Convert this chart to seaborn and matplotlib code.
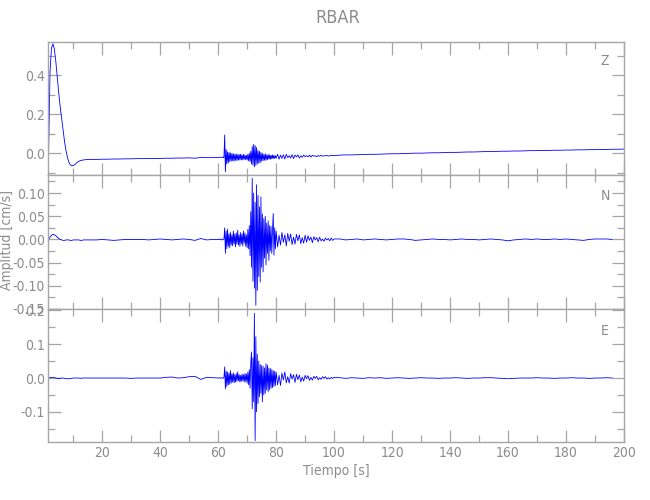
import numpy as np
import pandas as pd
import matplotlib
matplotlib.use("Agg")
import matplotlib.pyplot as plt
import seaborn as sns
from matplotlib import font_manager as fm
from matplotlib.ticker import MultipleLocator, FormatStrFormatter

# ---------------- data (amplitudes in 1e-3 cm/s) ----------------
# each trace is stored in 5 segments: (start time [s], sample step [s])
seg_start = [1.5, 16.0, 60.25, 80.5, 102.0]
seg_step = [0.5, 2.0, 0.25, 0.5, 2.0]

z_seg1 = [0, 420, 540, 562, 535, 470, 390, 310, 240, 180, 120, 62, 15, -20, -45,
          -58, -64, -63, -58, -51, -45, -40, -37, -35, -34, -33, -32]
z_seg2 = [-31, -31, -30, -30, -29, -29, -28, -28, -27, -27, -27, -26, -26, -25,
          -25, -24, -24, -23, -25, -21, -22, -22, -21]
z_seg3 = [-20, -21, -19, -20, -21, -20, -19, -22,
          94, -94, 20, -55, 8, -48, 5, -42, 2, -40, 0, -38, -2, -40, -4, -36,
          -3, -38, -6, -34, -5, -35, -4, -33, -8, -34, -6, -31, -8, -32, -10,
          -34, -4, -38, 0, -42, 10, -55, 35, -60, 46, -69, 40, -62, 30, -55,
          15, -50, 10, -48, 5, -40, 0, -38, -5, -35, -2, -36, -8, -32, -6, -30,
          -8, -30, -10, -28, -8, -27, -10, -26, -12, -25]
z_seg4 = [-5, -30, -9, -26, -7, -29, -5, -22, -12, -24, -7, -27, -9, -18, -8, -24,
          -13, -20, -9, -17, -12, -18, -9, -19, -10, -14, -13, -17, -11, -15,
          -10, -14, -13, -12, -11, -14, -12, -11, -10, -12]
z_seg5 = [-9, -8, -8, -7, -6, -5, -5, -4, -3, -2, -2, -1, 0, 1, 1, 2, 3, 3, 4, 5,
          5, 6, 7, 7, 8, 9, 9, 10, 11, 11, 12, 12, 13, 14, 14, 15, 15, 16, 16,
          17, 17, 18, 18, 19, 19, 20, 20, 21, 21, 22]

n_seg1 = [0, 5, 9, 11, 10, 8, 5, 2, 0, -1, -2, -2, -1, -1, -1, -2, -2, -1, -1,
          -1, -1, -1, -2, -2, -1, -1, -1]
n_seg2 = [-1, -1, 0, -1, -2, -1, 0, 0, 0, 0, -1, 0, 1, 0, -1, 0, 1, 0, -2, 2,
          -1, 0, 0]
n_seg3 = [0, 1, -1, 0, 1, -1, 0, 1,
          25, -30, 18, -20, 22, -15, 12, -18, 15, -12, 10, -14, 18, -10, 12,
          -16, 14, -10, 20, -12, 10, -15, 15, -10, 12, -14, 18, -8, 14, -15,
          10, -18, 22, -20, 30, -35, 60, -60, 132, -90, 100, -105, 80, -142,
          118, -110, 95, -80, 70, -92, 92, -60, 55, -70, 45, -40, 50, -55, 35,
          -30, 40, -45, 30, -25, 28, -30, 20, 56, -34, 25, -20, 18]
n_seg4 = [-16, 9, -12, 15, -6, 10, -14, 13, -4, 12, -11, 5, -10, 11, -3, 10,
          -9, 4, -8, 9, -6, 8, -2, 5, -7, 6, -1, 4, -5, 5, -3, 1, -4, 3, -1, 2,
          -3, 3, -2, 1]
n_seg5 = [1, -1, 0, 1, -1, 0, 1, 0, -1, 0, 1, 1, 0, -2, -1, 0, 1, 0, 0, -1, 0,
          1, 0, 0, -1, 0, 1, 0, -1, -3, -1, 0, 1, 0, 1, 0, 0, 1, 0, 1, 0, -1,
          -2, 0, 1, 1, 1, 0]

e_seg1 = [0, 1, 2, 2, 1, 0, -1, -1, -1, 0, 0, -1, -2, -2, -2, -1, -1, 0, 0, 0,
          0, 0, -1, 0, 0, 0, 0]
e_seg2 = [0, 0, 0, 0, 0, 0, 0, -1, 0, 0, 0, 0, 0, 2, 3, 0, 1, 4, 5, -4, 2, 1, 0]
e_seg3 = [0, 1, -1, 0, 1, 0, -1, 2,
          33, -32, 20, -25, 18, -20, 15, -18, 22, -15, 12, -12, 15, -14, 10,
          -12, 13, -10, 18, -8, 10, -12, 8, -10, 12, -8, 10, -12, 14, -10, 12,
          -15, 18, -20, 25, -30, 45, 77, -91, 60, -70, 191, -185, 122, -100,
          70, -75, 50, -55, 40, -45, 37, -70, 35, -50, 30, -45, 42, -35, 38,
          -40, 30, -35, 28, -30, 25, -28, 22, -25, 20, -22, 18]
e_seg4 = [-20, 8, -22, 15, -6, 18, -14, 4, -15, 13, -3, 10, -13, 11, -5, 9,
          -11, 3, -9, 8, -2, 7, -7, 2, -6, 5, -1, 5, -5, 1, -4, 4, -1, 4, -3, 1,
          -3, 2, -1, 2]
e_seg5 = [1, -1, 1, 0, -1, 1, 0, 1, -1, 0, 1, 0, -1, 0, 1, 0, 0, -1, 0, 0, 1, 0,
          -1, 0, 0, 1, 1, 0, -1, -2, -1, 0, 0, 0, 1, 0, 0, -1, 0, 0, 1, 0, 0,
          -1, 0, 0, 1, 0]

components = ["Z", "N", "E"]
traces = {
    "Z": [z_seg1, z_seg2, z_seg3, z_seg4, z_seg5],
    "N": [n_seg1, n_seg2, n_seg3, n_seg4, n_seg5],
    "E": [e_seg1, e_seg2, e_seg3, e_seg4, e_seg5],
}
units = 1e-3  # cm/s per stored unit

rows = []
for comp in components:
    for s0, dt, vals in zip(seg_start, seg_step, traces[comp]):
        for i, v in enumerate(vals):
            rows.append((comp, s0 + i * dt, v * units))
df = pd.DataFrame(rows, columns=["comp", "t", "amp"])

# ---------------- style ----------------
sns.set_theme(style="white")

# pick a narrow font if one is installed
fonts = fm.fontManager.ttflist
fam_names = {f.name for f in fonts}
stretch = "normal"
fsize = 10
if "Liberation Sans Narrow" in fam_names:
    family = ["Liberation Sans Narrow", "DejaVu Sans"]
elif any(f.name == "DejaVu Sans" and f.stretch == "condensed" for f in fonts):
    family = ["DejaVu Sans"]
    stretch = "condensed"
else:
    family = ["Liberation Sans", "DejaVu Sans"]
    fsize = 9
plt.rcParams["font.family"] = family
plt.rcParams["font.stretch"] = stretch
plt.rcParams["axes.unicode_minus"] = False

gray = "#8c8c8c"
axcol = "#a6a6a6"

fig = plt.figure(figsize=(6.5, 5.0), dpi=100)
W, H = 650.0, 500.0
left, right = 48, 624
panels = [(42, 175), (175, 309), (309, 442)]
ylims = [(-0.111, 0.571), (-0.15, 0.139), (-0.189, 0.204)]
ymaj = [0.2, 0.05, 0.1]
ymin = [0.1, 0.025, 0.05]
yfmt = ["%.1f", "%.2f", "%.1f"]
lab_y = [0.857, 0.843, 0.835]

axes = []
for k, comp in enumerate(components):
    top, bot = panels[k]
    ax = fig.add_axes([left / W, 1 - bot / H, (right - left) / W, (bot - top) / H])
    sub = df[df["comp"] == comp]
    sns.lineplot(data=sub, x="t", y="amp", ax=ax, color="#0000ff", lw=0.6,
                 estimator=None, sort=False)
    ax.set_xlim(1.3, 200)
    ax.set_ylim(*ylims[k])
    ax.xaxis.set_major_locator(MultipleLocator(20))
    ax.xaxis.set_minor_locator(MultipleLocator(10))
    ax.yaxis.set_major_locator(MultipleLocator(ymaj[k]))
    ax.yaxis.set_minor_locator(MultipleLocator(ymin[k]))
    ax.yaxis.set_major_formatter(FormatStrFormatter(yfmt[k]))
    ax.tick_params(which="both", direction="in", top=True, right=True,
                   bottom=True, left=True, color=axcol, width=0.9,
                   labelcolor=gray, labelsize=fsize)
    ax.tick_params(axis="y", pad=2)
    ax.tick_params(axis="x", pad=3)
    ax.tick_params(which="major", length=9)
    ax.tick_params(which="minor", length=5)
    for sp in ax.spines.values():
        sp.set_color(axcol)
        sp.set_linewidth(1.0)
    ax.set_xlabel("")
    ax.set_ylabel("")
    if k < 2:
        ax.tick_params(labelbottom=False)
    ax.text(0.967, lab_y[k], comp, transform=ax.transAxes, ha="center",
            va="center", color=gray, fontsize=fsize)
    axes.append(ax)

axes[2].set_xlabel("Tiempo [s]", color=gray, fontsize=fsize, labelpad=3)
fig.text(7 / W, 1 - 240 / H, "Amplitud [cm/s]", rotation=90, ha="center",
         va="center", color=gray, fontsize=fsize)
fig.text(338 / W, 1 - 18 / H, "RBAR", ha="center", va="center", color=gray,
         fontsize=fsize + 3)

fig.savefig("out.png", dpi=100)
